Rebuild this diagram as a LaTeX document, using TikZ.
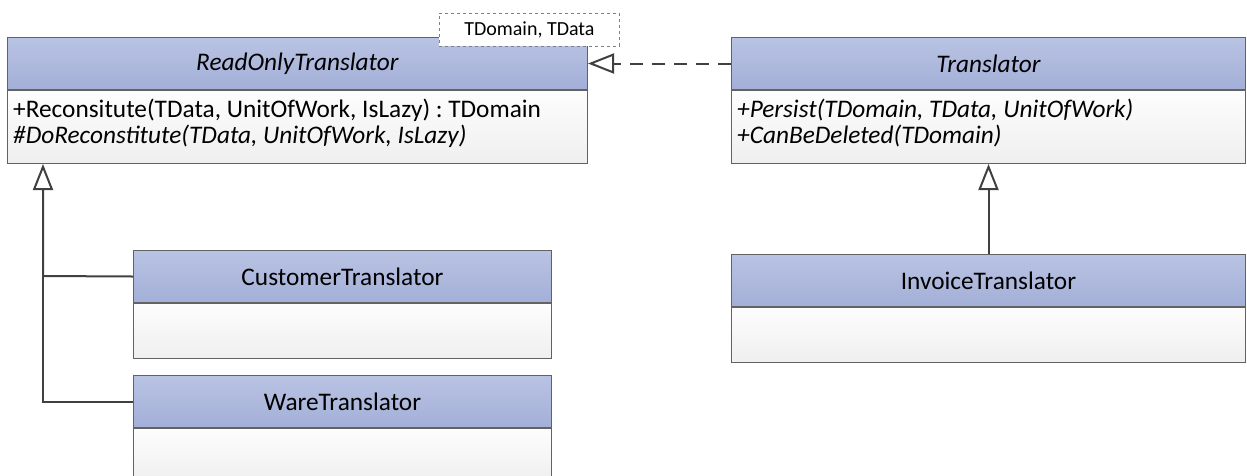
\documentclass[tikz,border=0pt]{standalone}
\usepackage{fontspec}
\setmainfont{Carlito}
\frenchspacing
\usetikzlibrary{arrows.meta,positioning}
\definecolor{hdtop}{HTML}{B9C3E3}
\definecolor{hdbot}{HTML}{A3AFD7}
\definecolor{bdtop}{HTML}{FDFDFD}
\definecolor{bdbot}{HTML}{EFEFEF}
\definecolor{boxline}{HTML}{626262}
\definecolor{conline}{HTML}{404040}
\begin{document}
\begin{tikzpicture}[font=\fontsize{25.3}{26}\selectfont,x=1pt,y=-1pt,
 hdr/.style={draw=boxline,line width=1pt,top color=hdtop,bottom color=hdbot,minimum height=52pt,inner sep=0pt,anchor=north west},
 bdy/.style={draw=boxline,line width=1pt,top color=bdtop,bottom color=bdbot,inner sep=0pt,anchor=north west},
 ops/.style={anchor=west,align=left,inner xsep=6pt,inner ysep=0pt},
 gen/.style={draw=conline,line width=2pt,-{Triangle[open,length=26pt,width=20pt]}},
 real/.style={gen,dash pattern=on 13pt off 9pt},
 tmpl/.style={draw=gray,dashed,line width=.8pt,fill=white,minimum width=180pt,minimum height=33pt,inner sep=0pt,anchor=north west,font=\fontsize{20}{22}\selectfont}]
\useasboundingbox (0,0) rectangle (1247,475);
% abstract classes
\node[hdr,minimum width=580pt] (ro) at (7,37) {\textit{ReadOnlyTranslator}};
\node[bdy,minimum width=580pt,minimum height=73pt] (rob) at (ro.south west) {};
\node[ops] (robops) at ([yshift=4pt]rob.west) {+Reconsitute(TData, UnitOfWork, IsLazy) : TDomain\\\textit{\#DoReconstitute(TData, UnitOfWork, IsLazy)}};
\node[tmpl] (tp) at (439,13) {TDomain, TData};
\node[hdr,minimum width=514pt] (tr) at (731,37) {\textit{Translator}};
\node[bdy,minimum width=514pt,minimum height=73pt] (trb) at (tr.south west) {};
\node[ops] (trbops) at ([yshift=4pt]trb.west) {\textit{+Persist(TDomain, TData, UnitOfWork)}\\\textit{+CanBeDeleted(TDomain)}};
% concrete classes
\foreach \nm/\x/\y/\w/\lab in {cust/133/250/418/CustomerTranslator,ware/133/375/418/WareTranslator,inv/731/254/514/InvoiceTranslator}{
 \node[hdr,minimum width=\w pt] (\nm) at (\x,\y) {\lab};
 \node[bdy,minimum width=\w pt,minimum height=55pt] (\nm b) at (\nm.south west) {};
}
% connectors
\coordinate (knee) at (43,276);
\draw[real] (tr.west) -- (ro.east);
\draw[gen] (inv.north) -- (trb.south);
\draw[gen] (cust.west) -- (knee) -- (rob.south -| knee);
\draw[draw=conline,line width=2pt] (ware.west) -| (knee);
\end{tikzpicture}
\end{document}
